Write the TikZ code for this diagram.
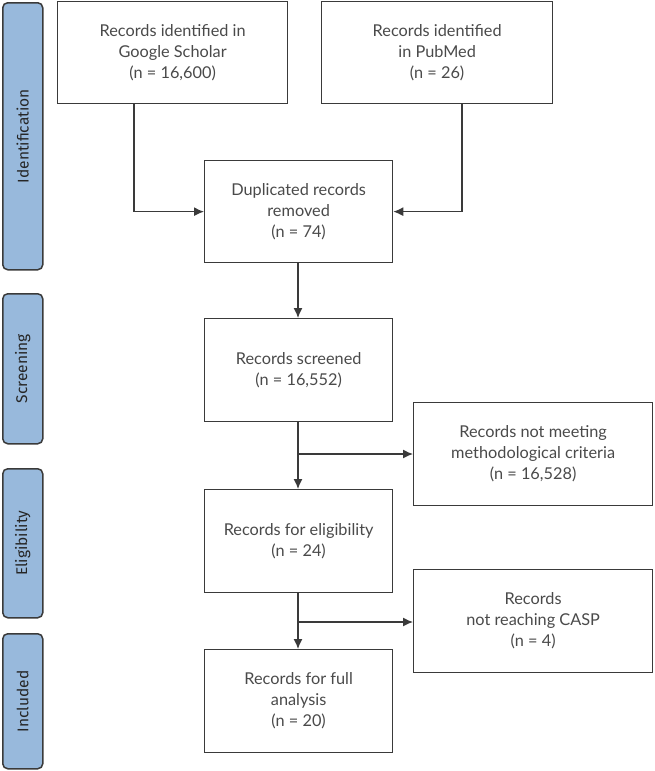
\documentclass[tikz,border=0pt]{standalone}
\usepackage{fontspec}
\setmainfont{Lato}
\newfontfamily\sidefont{Fira Sans}
\usetikzlibrary{arrows.meta}
\definecolor{linegray}{HTML}{3A3A3A}
\definecolor{textgray}{HTML}{4A4A4A}
\definecolor{barblue}{HTML}{98B9DC}
\tikzset{
  box/.style={draw=linegray, line width=1.3pt, fill=white, text=textgray, align=center, anchor=north west, inner sep=0pt, font=\fontsize{16.3}{21}\selectfont},
  bar/.style={draw=linegray, line width=1.5pt, fill=barblue, rounded corners=5pt, anchor=north west, inner sep=0pt},
  barlabel/.style={rotate=90, text=black!85, font=\sidefont\fontsize{15.5}{18}\selectfont},
  conn/.style={draw=linegray, line width=1.3pt},
  arr/.style={conn, -{Latex[length=10pt,width=9pt]}}
}
\begin{document}
\begin{tikzpicture}[x=1pt,y=-1pt]
\useasboundingbox (0,0) rectangle (654,771);
% side bars
\node[bar, minimum width=40pt, minimum height=267pt] (b1) at (2,2) {};
\node[barlabel] (l1) at (b1.center) {Identification};
\node[bar, minimum width=40pt, minimum height=150pt] (b2) at (2,293) {};
\node[barlabel] (l2) at (b2.center) {Screening};
\node[bar, minimum width=40pt, minimum height=149pt] (b3) at (2,468) {};
\node[barlabel] (l3) at (b3.center) {Eligibility};
\node[bar, minimum width=40pt, minimum height=135pt] (b4) at (2,633) {};
\node[barlabel] (l4) at (b4.center) {Included};
% boxes
\node[box, minimum width=230pt, minimum height=102pt] (gs) at (57,1) {Records identified in\\Google Scholar\\(n = 16,600)};
\node[box, minimum width=231pt, minimum height=102pt] (pm) at (321,1) {Records identified\\in PubMed\\(n = 26)};
\node[box, minimum width=188pt, minimum height=102pt] (dup) at (204,160) {Duplicated records\\removed\\(n = 74)};
\node[box, minimum width=188pt, minimum height=103pt] (scr) at (204,318) {Records screened\\(n = 16,552)};
\node[box, minimum width=239pt, minimum height=103pt] (nm) at (413,402) {Records not meeting\\methodological criteria\\(n = 16,528)};
\node[box, minimum width=188pt, minimum height=103pt] (eli) at (204,489) {Records for eligibility\\(n = 24)};
\node[box, minimum width=239pt, minimum height=103pt] (nc) at (413,569) {Records\\not reaching CASP\\(n = 4)};
\node[box, minimum width=188pt, minimum height=103pt] (fa) at (204,649) {Records for full\\analysis\\(n = 20)};
% connectors
\coordinate (gsd) at (134,0);
\coordinate (pmd) at (462,0);
\coordinate (cx) at (298,0);
\coordinate (j1) at (298,454);
\coordinate (j2) at (298,622);
\draw[arr] (gsd |- gs.south) |- (dup.west);
\draw[arr] (pmd |- pm.south) |- (dup.east);
\draw[arr] (cx |- dup.south) -- (cx |- scr.north);
\draw[arr] (cx |- scr.south) -- (cx |- eli.north);
\draw[arr] (j1) -- (nm.west |- j1);
\draw[arr] (cx |- eli.south) -- (cx |- fa.north);
\draw[arr] (j2) -- (nc.west |- j2);
\end{tikzpicture}
\end{document}
